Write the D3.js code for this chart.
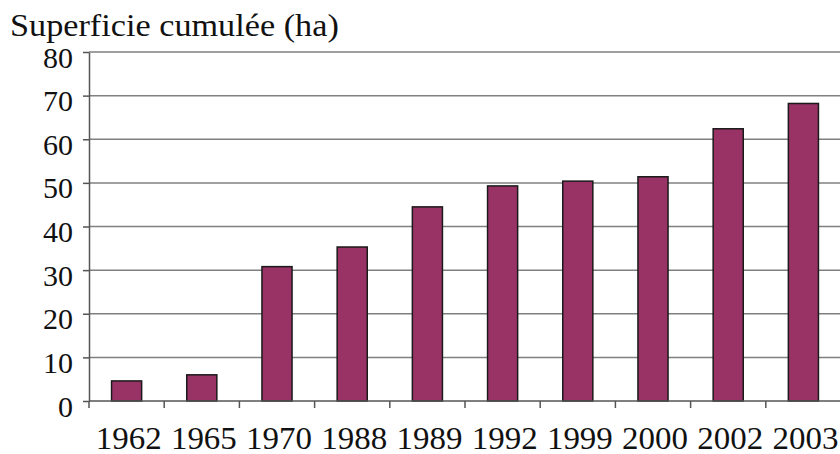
<!DOCTYPE html>
<html>
<head>
<meta charset="utf-8">
<script src="https://cdn.jsdelivr.net/npm/d3@7"></script>
<style>
  body { margin: 0; background: #fff; }
  svg { display: block; }
</style>
</head>
<body>
<svg id="chart" width="840" height="454"></svg>
<script>
var years = ["1962", "1965", "1970", "1988", "1989", "1992", "1999", "2000", "2002", "2003"];
var surface = [4.6, 6.0, 30.8, 35.3, 44.5, 49.3, 50.4, 51.4, 62.4, 68.2];
var yTicks = [0, 10, 20, 30, 40, 50, 60, 70, 80];
var title = "Superficie cumulée (ha)";

var svg = d3.select("#chart");
var plotLeft = 89, plotRight = 841, plotTop = 52, plotBottom = 401;
var barColor = "#993366";
var axisColor = "#555";
var fontFamily = "'Liberation Serif', 'Times New Roman', serif";

var x = d3.scaleBand().domain(years).range([plotLeft, plotRight]).padding(0);
var y = d3.scaleLinear().domain([0, 80]).range([plotBottom, plotTop]);

// gridlines
svg.append("g")
    .selectAll("line")
    .data(yTicks.slice(1))
    .enter().append("line")
    .attr("x1", plotLeft)
    .attr("x2", 840)
    .attr("y1", function(d) { return y(d); })
    .attr("y2", function(d) { return y(d); })
    .attr("stroke", "#808080")
    .attr("stroke-width", 1.5);

// bars
var barW = x.bandwidth() * 0.4;
svg.append("g")
    .selectAll("rect")
    .data(surface)
    .enter().append("rect")
    .attr("x", function(d, i) { return x(years[i]) + (x.bandwidth() - barW) / 2; })
    .attr("y", function(d) { return y(d); })
    .attr("width", barW)
    .attr("height", function(d) { return y(0) - y(d); })
    .attr("fill", barColor)
    .attr("stroke", "#1a1a1a")
    .attr("stroke-width", 1.5);

// y axis
var yAxis = d3.axisLeft(y)
    .tickValues(yTicks)
    .tickSizeInner(6)
    .tickSizeOuter(0)
    .tickPadding(10);

var gy = svg.append("g")
    .attr("transform", "translate(" + plotLeft + ",0)")
    .call(yAxis);
gy.select(".domain").attr("stroke", axisColor).attr("stroke-width", 1.5);
gy.selectAll(".tick line").attr("stroke", axisColor).attr("stroke-width", 1.5);
gy.selectAll(".tick text")
    .attr("font-family", fontFamily)
    .attr("font-size", 30)
    .attr("fill", "#111")
    .attr("dy", "0.5em");

// x axis: labels centred in the bands, ticks on band edges
var xAxis = d3.axisBottom(x).tickSize(0).tickPadding(0);
var gx = svg.append("g")
    .attr("transform", "translate(0," + plotBottom + ")")
    .call(xAxis);
gx.select(".domain").remove();
gx.selectAll(".tick text")
    .attr("font-family", fontFamily)
    .attr("font-size", 32)
    .attr("fill", "#111")
    .attr("x", 2)
    .attr("y", 48)
    .attr("dy", 0)
    .attr("transform", "scale(1.03,1)");

var edges = years.map(function(d) { return x(d); }).concat([x(years[years.length - 1]) + x.bandwidth()]);
svg.append("line")
    .attr("x1", plotLeft).attr("x2", 840)
    .attr("y1", plotBottom).attr("y2", plotBottom)
    .attr("stroke", axisColor).attr("stroke-width", 1.5);
svg.append("g")
    .selectAll("line")
    .data(edges)
    .enter().append("line")
    .attr("x1", function(d) { return d; })
    .attr("x2", function(d) { return d; })
    .attr("y1", plotBottom)
    .attr("y2", plotBottom + 7)
    .attr("stroke", axisColor)
    .attr("stroke-width", 1.5);

// title
var titleStretch = 1.07;
svg.append("text")
    .attr("x", 10 / titleStretch)
    .attr("y", 36)
    .attr("transform", "scale(" + titleStretch + ",1)")
    .attr("font-family", fontFamily)
    .attr("font-size", 32)
    .attr("fill", "#111")
    .text(title);
</script>
</body>
</html>
